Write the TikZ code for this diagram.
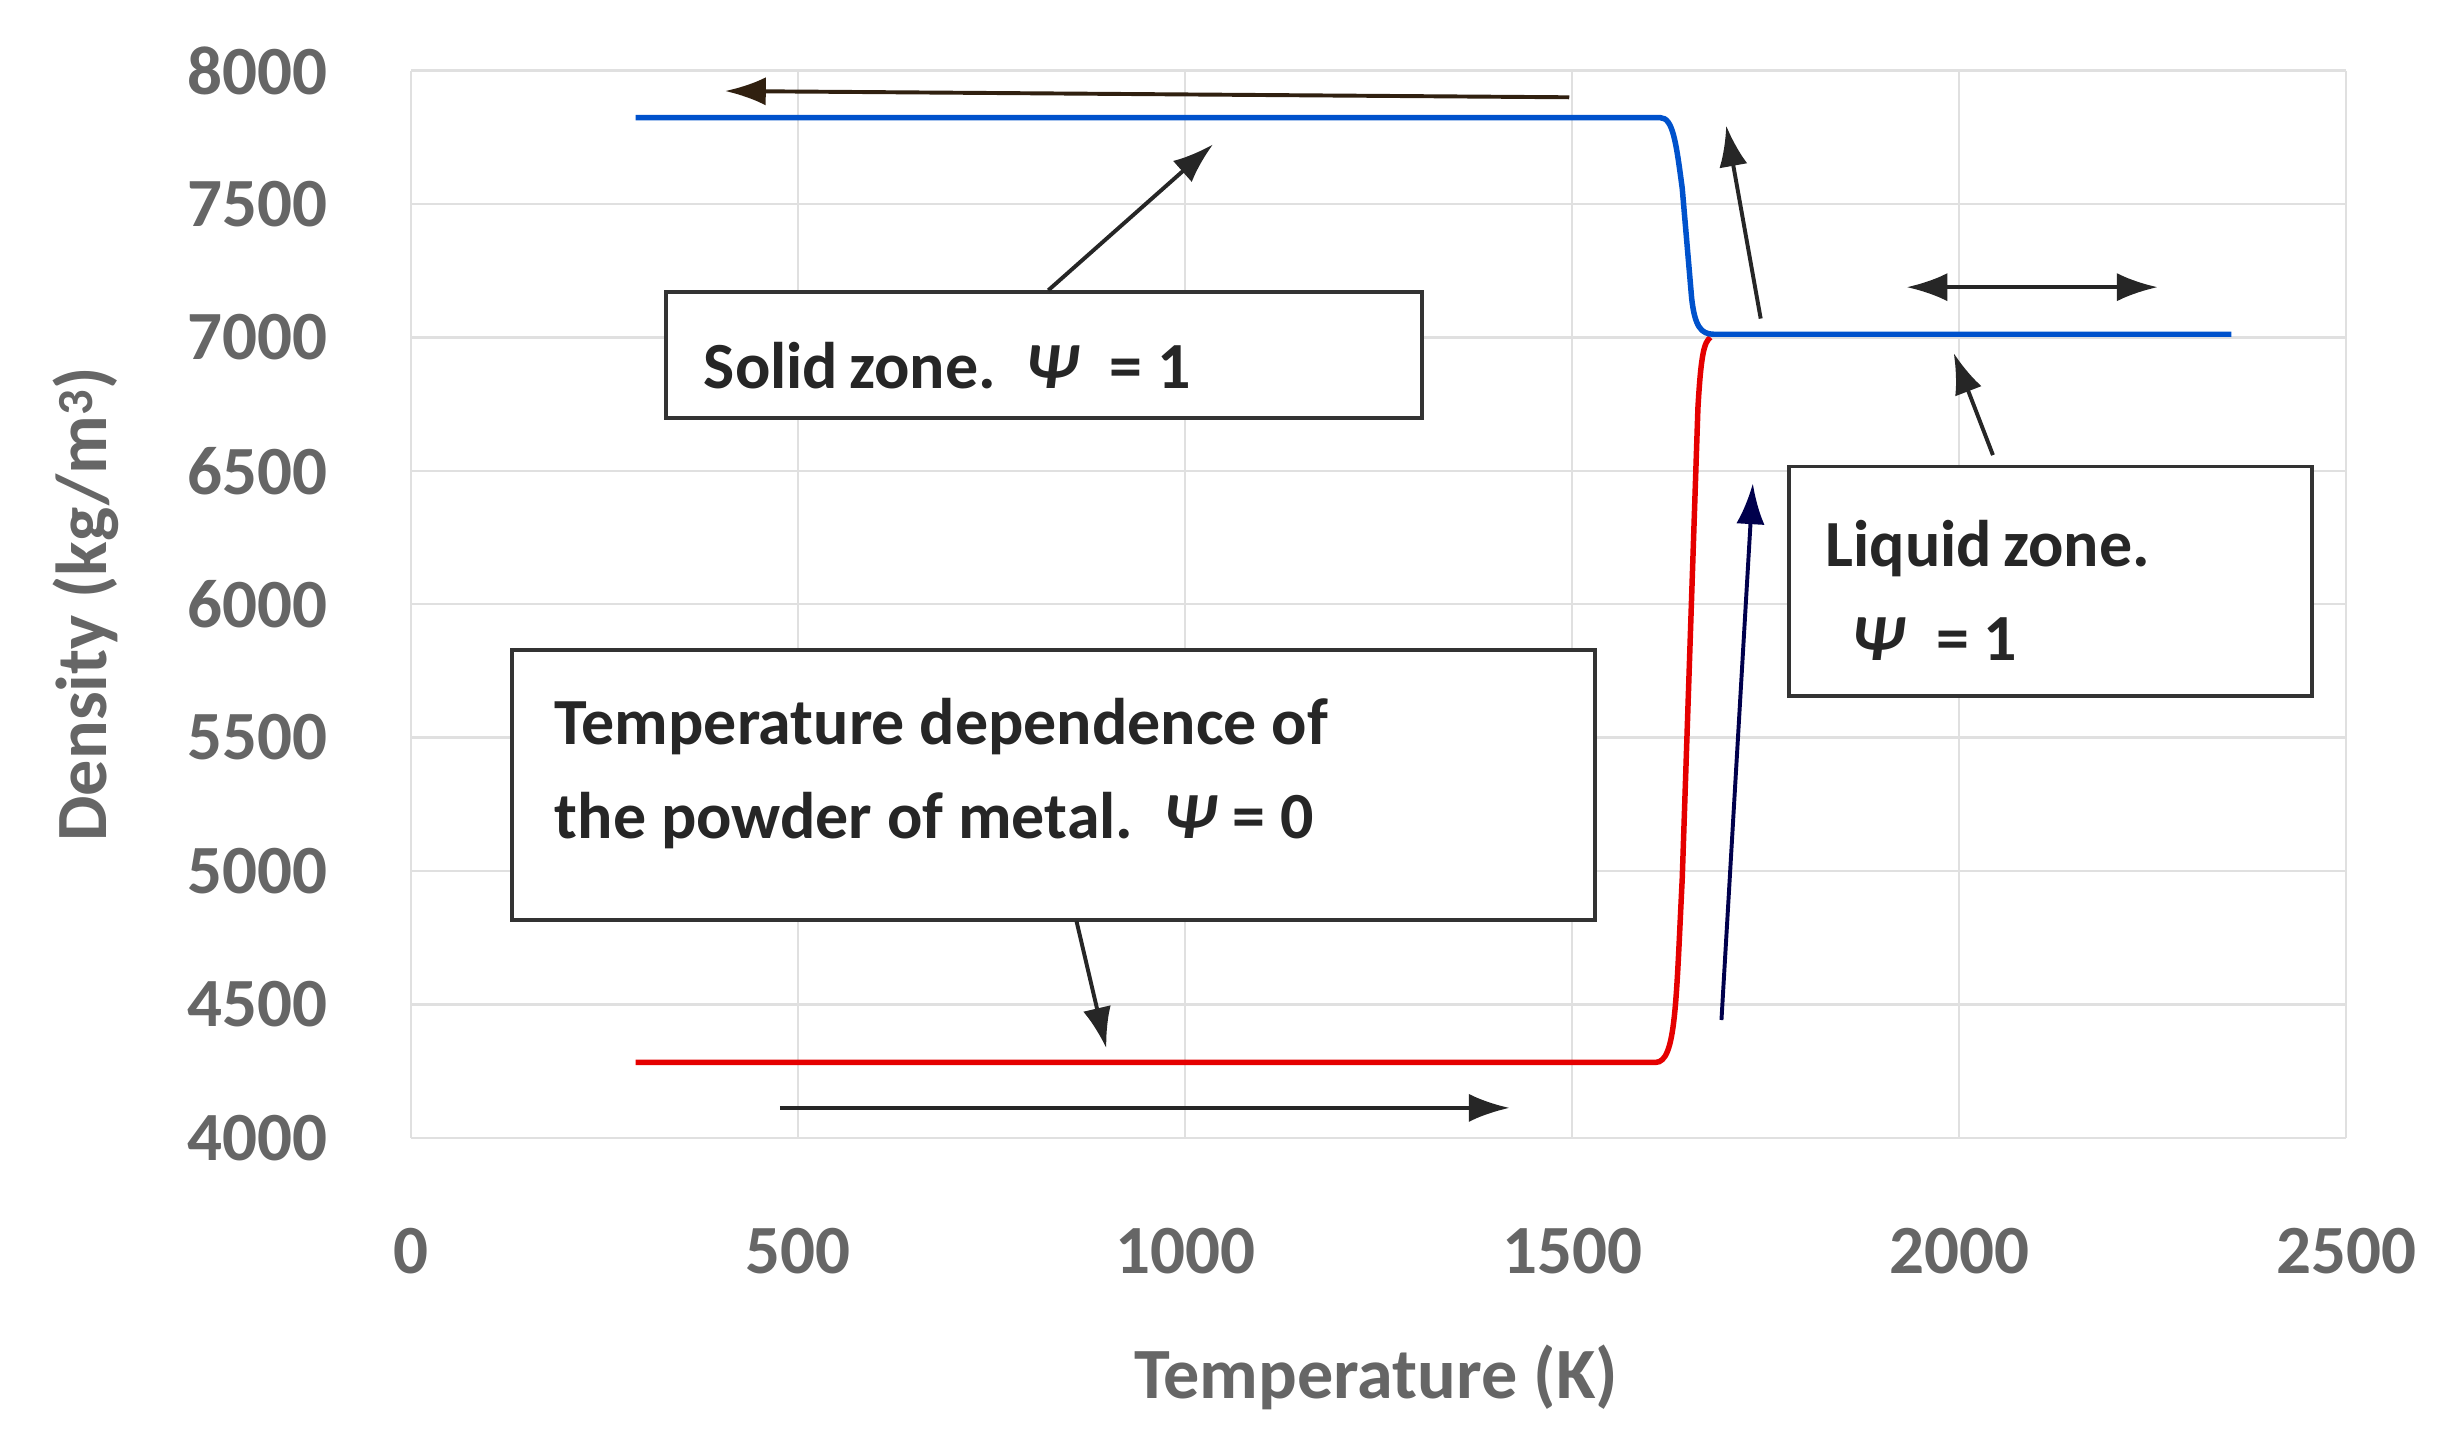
\documentclass[tikz,border=0pt]{standalone}
\usepackage{fontspec}
\usetikzlibrary{arrows.meta}
\setmainfont{Carlito}
\newcommand{\PsiB}{\textit{\textbf{Ψ}}}
\begin{document}
\begin{tikzpicture}[x=1pt,y=-1pt,
  tick/.style={font=\fontsize{44}{48}\selectfont\bfseries, text=black!60},
  lbl/.style={font=\fontsize{46}{50}\selectfont\bfseries, text=black!60},
  box/.style={draw=black!80, line width=2.5pt, fill=white},
  btxt/.style={font=\fontsize{42}{60}\selectfont\bfseries, text=black!85, align=left, anchor=west},
  arr/.style={-{Latex[length=26pt,width=18pt]}, line width=2.5pt, black!85},
  grid/.style={draw=black!12, line width=1.5pt}]
\useasboundingbox (0,0) rectangle (1560,921);
\foreach \i in {0,...,5}{
  \draw[grid] ({262+246.6*\i},45) -- ({262+246.6*\i},725);
  \pgfmathtruncatemacro\v{500*\i}
  \node[tick] at ({262+246.6*\i},797) {\v};}
\foreach \i in {0,...,8}{
  \draw[grid] (262,{45+85*\i}) -- (1495,{45+85*\i});
  \pgfmathtruncatemacro\v{8000-500*\i}
  \node[tick, anchor=east] at (212,{45+85*\i}) {\v};}
\node[lbl, rotate=90] (yl) at (55,385) {Density (kg/m\textsuperscript{3})};
\node[lbl] (xl) at (877,878) {Temperature (K)};
% curves
\draw[line width=3.5pt, red!90!black] (405,677) -- (1055,677) .. controls (1068,677) and (1068,640) .. (1072,560) -- (1082,260) .. controls (1084,225) and (1086,218) .. (1090,215);
\draw[line width=3.5pt, blue!60!cyan!80!black] (405,75) -- (1058,75) .. controls (1066,75) and (1068,90) .. (1072,120) -- (1078,190) .. controls (1080,208) and (1084,213) .. (1092,213) -- (1422,213);
% boxes
\node[box, minimum width=482, minimum height=80, anchor=north west] (solid) at (423,185) {};
\node[btxt] at (445,233) {Solid\,zone.~~\PsiB~~= 1};
\node[box, minimum width=333, minimum height=146, anchor=north west] (liq) at (1139,296) {};
\node[btxt] at (1160,376) {Liquid\,zone.\\~\,\PsiB~~= 1};
\node[box, minimum width=690, minimum height=172, anchor=north west] (pow) at (325,413) {};
\node[btxt] at (350,493) {Temperature dependence of\\the powder of metal.~~\PsiB{} = 0};
% arrows
\coordinate (a1) at (1000,62); \coordinate (a1e) at (462,58);
\draw[arr, black!75!brown] (a1) -- (a1e);
\coordinate (a2) at (668,185); \coordinate (a2e) at (773,92);
\draw[arr] (a2) -- (a2e);
\coordinate (a3) at (1122,203); \coordinate (a3e) at (1100,80);
\draw[arr] (a3) -- (a3e);
\coordinate (a4) at (1215,183); \coordinate (a4e) at (1375,183);
\draw[arr, {Latex[length=26pt,width=18pt]}-{Latex[length=26pt,width=18pt]}] (a4) -- (a4e);
\coordinate (a5) at (1270,290); \coordinate (a5e) at (1245,225);
\draw[arr] (a5) -- (a5e);
\coordinate (a6) at (1097,650); \coordinate (a6e) at (1117,308);
\draw[arr, black!70!blue] (a6) -- (a6e);
\coordinate (a7) at (686,587); \coordinate (a7e) at (705,668);
\draw[arr] (a7) -- (a7e);
\coordinate (a8) at (497,706); \coordinate (a8e) at (962,706);
\draw[arr] (a8) -- (a8e);
\end{tikzpicture}
\end{document}
